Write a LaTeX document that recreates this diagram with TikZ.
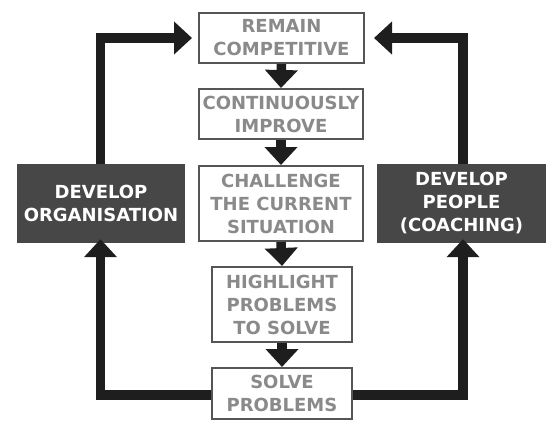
\documentclass[tikz,border=0pt]{standalone}
\usepackage{fontspec}
\setmainfont{DejaVu Sans}
\usetikzlibrary{arrows.meta}
\definecolor{boxline}{HTML}{555555}
\definecolor{boxtext}{HTML}{8A8A8A}
\definecolor{darkfill}{HTML}{474747}
\definecolor{arrowc}{HTML}{1E1E1E}
\tikzset{
  lightbox/.style={draw=boxline, line width=2pt, fill=white, text=boxtext,
    inner sep=0pt, align=center, font=\fontsize{18}{23}\selectfont\bfseries},
  darkbox/.style={fill=darkfill, text=white, inner sep=0pt, align=center,
    font=\fontsize{18}{23}\selectfont\bfseries},
  flow/.style={draw=arrowc, line width=9.5pt, line join=miter,
    -{Triangle[width=32pt,length=18pt]}}
}
\begin{document}
\begin{tikzpicture}[x=1pt,y=-1pt]
\useasboundingbox (0,0) rectangle (557,440);
\node[lightbox, minimum width=165pt, minimum height=50pt] (top) at (281.5,38) {REMAIN\\COMPETITIVE};
\node[lightbox, minimum width=164pt, minimum height=50pt] (cont) at (281,114) {CONTINUOUSLY\\IMPROVE};
\node[lightbox, minimum width=164pt, minimum height=75pt] (chal) at (281,203.5) {CHALLENGE\\THE CURRENT\\SITUATION};
\node[lightbox, minimum width=140pt, minimum height=75pt] (high) at (282,304.5) {HIGHLIGHT\\PROBLEMS\\TO SOLVE};
\node[lightbox, minimum width=140pt, minimum height=51pt] (solve) at (282,393.5) {SOLVE\\PROBLEMS};
\node[darkbox, minimum width=168pt, minimum height=79pt] (org) at (101,203.5) {DEVELOP\\ORGANISATION};
\node[darkbox, minimum width=169pt, minimum height=79pt] (people) at (461.5,203.5) {DEVELOP\\PEOPLE\\(COACHING)};
\draw[flow] (top.south) -- (cont.north);
\draw[flow] (cont.south) -- (chal.north);
\draw[flow] (chal.south) -- (high.north);
\draw[flow] (high.south) -- (solve.north);
\draw[flow] ([xshift=-0.5pt]org.north) |- ([xshift=-6pt]top.west);
\draw[flow] ([xshift=1.5pt]people.north) |- ([xshift=9pt]top.east);
\draw[flow] ([yshift=-1.5pt]solve.west) -| ([xshift=-0.5pt,yshift=4pt]org.south);
\draw[flow] ([yshift=-1.5pt]solve.east) -| ([xshift=1.5pt,yshift=4pt]people.south);
\end{tikzpicture}
\end{document}
